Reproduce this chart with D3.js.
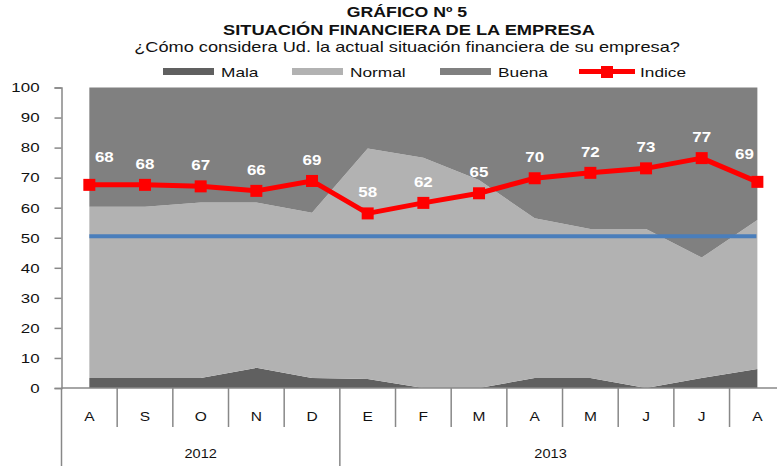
<!DOCTYPE html>
<html>
<head>
<meta charset="utf-8">
<script src="https://cdn.jsdelivr.net/npm/d3@7"></script>
<style>
  body { margin: 0; background: #fff; }
  svg text { font-family: Arial, "Liberation Sans", sans-serif; }
</style>
</head>
<body>
<div id="chart"></div>
<script>
// Chart data
const months = ["A", "S", "O", "N", "D", "E", "F", "M", "A", "M", "J", "J", "A"];
const years = [{ label: "2012", from: 0, to: 5 }, { label: "2013", from: 5, to: 13 }];
const mala = [3.3, 3.3, 3.3, 6.7, 3.3, 3.0, 0, 0, 3.3, 3.3, 0, 3.3, 6.3];
const normal = [57.0, 57.0, 58.4, 55.0, 55.0, 76.7, 76.6, 69.2, 53.2, 49.6, 52.9, 40.1, 49.6];
const buena = [39.7, 39.7, 38.3, 38.3, 41.7, 20.3, 23.4, 30.8, 43.5, 47.1, 47.1, 56.6, 44.1];
const indice = [67.6, 67.6, 67.1, 65.6, 68.9, 58.1, 61.6, 64.8, 69.8, 71.6, 73.1, 76.5, 68.6];
const reference = 50.5;
const yTicks = [0, 10, 20, 30, 40, 50, 60, 70, 80, 90, 100];

const width = 777, height = 466;
const colors = { mala: "#606060", normal: "#b2b2b2", buena: "#808080" };

const svg = d3.select("#chart").append("svg")
    .attr("width", width)
    .attr("height", height);

// text in the original is a bit wider than plain Arial, so stretch it horizontally
function addText(parent, x, y, str, size, sx, opts) {
    opts = opts || {};
    return parent.append("text")
        .attr("transform", `translate(${x},${y}) scale(${sx},1)`)
        .attr("text-anchor", opts.anchor || "middle")
        .attr("font-size", size)
        .attr("font-weight", opts.bold ? "bold" : "normal")
        .attr("fill", opts.fill || "#111")
        .text(str);
}

// Scales
const xBand = d3.scaleBand().domain(d3.range(months.length)).range([61.5, 61.5 + 13 * 55.67]);
const x = i => xBand(i) + xBand.bandwidth() / 2;
const y = d3.scaleLinear().domain([0, 100]).range([388, 87.5]);

// Titles
addText(svg, 407, 17, "GRÁFICO Nº 5", 14.5, 1.22, { bold: true });
addText(svg, 409, 34.5, "SITUACIÓN FINANCIERA DE LA EMPRESA", 14.5, 1.26, { bold: true });
addText(svg, 407, 52, "¿Cómo considera Ud. la actual situación financiera de su empresa?", 14, 1.3);

// Stacked areas
const rows = months.map((m, i) => ({ i: i, mala: mala[i], normal: normal[i], buena: buena[i] }));
const series = d3.stack().keys(["mala", "normal", "buena"])(rows);
const area = d3.area()
    .x(d => x(d.data.i))
    .y0(d => y(d[0]))
    .y1(d => y(d[1]));

svg.append("g").selectAll("path")
    .data(series)
    .enter().append("path")
    .attr("fill", d => colors[d.key])
    .attr("d", area);

// Reference line
svg.append("line")
    .attr("x1", x(0)).attr("x2", x(months.length - 1) - 1)
    .attr("y1", y(reference)).attr("y2", y(reference))
    .attr("stroke", "#4a7ebb").attr("stroke-width", 4);

// Y axis
const yAxis = svg.append("g")
    .attr("transform", "translate(61.5,0)")
    .call(d3.axisLeft(y).tickValues(yTicks).tickSize(7).tickPadding(14));
yAxis.selectAll("line, path").attr("stroke", "#888").attr("stroke-width", 1.5);
yAxis.selectAll("text")
    .attr("font-size", 13.5).attr("fill", "#111")
    .attr("x", -22 / 1.25)
    .attr("transform", "scale(1.25,1)")
    .style("font-family", "Arial, 'Liberation Sans', sans-serif");

// X axis: baseline, month separators and labels
svg.append("line")
    .attr("x1", 61.5).attr("x2", xBand.range()[1])
    .attr("y1", y(0)).attr("y2", y(0))
    .attr("stroke", "#888").attr("stroke-width", 1.5);

svg.append("g").selectAll("line")
    .data(d3.range(months.length + 1))
    .enter().append("line")
    .attr("x1", i => i < months.length ? xBand(i) : xBand.range()[1])
    .attr("x2", i => i < months.length ? xBand(i) : xBand.range()[1])
    .attr("y1", y(0))
    .attr("y2", i => years.some(yr => yr.from === i) ? 466 : 427)
    .attr("stroke", "#888").attr("stroke-width", 1.5);

const monthG = svg.append("g");
months.forEach((m, i) => addText(monthG, x(i), 421, m, 13.5, 1.15));

const yearG = svg.append("g");
years.forEach(yr => {
    const end = yr.to < months.length ? xBand(yr.to) : xBand.range()[1];
    const cx = (xBand(yr.from) + end) / 2 - (yr.to < months.length ? 0 : 12);
    addText(yearG, cx, 458, yr.label, 13, 1.12);
});

// Indice line and markers
const line = d3.line().x((d, i) => x(i)).y(d => y(d));
svg.append("path")
    .datum(indice)
    .attr("fill", "none")
    .attr("stroke", "#ff0000")
    .attr("stroke-width", 5)
    .attr("stroke-linejoin", "round")
    .attr("d", line);

svg.selectAll(".marker")
    .data(indice)
    .enter().append("rect")
    .attr("class", "marker")
    .attr("x", (d, i) => x(i) - 6)
    .attr("y", d => y(d) - 6)
    .attr("width", 12).attr("height", 12)
    .attr("fill", "#ff0000");

// Data labels
const last = indice.length - 1;
const labelG = svg.append("g");
indice.forEach((d, i) => {
    const lx = x(i) + (i === 0 ? 15 : i === last ? -13 : 0);
    const ly = y(d) - (i === 0 || i === last ? 23 : 16);
    addText(labelG, lx, ly, Math.round(d), 15, 1.13, { bold: true, fill: "#fff" });
});

// Legend
const legend = svg.append("g");
const legendItems = [
    { key: "mala", label: "Mala", x: 163 },
    { key: "normal", label: "Normal", x: 292 },
    { key: "buena", label: "Buena", x: 440 }
];
legend.selectAll("rect")
    .data(legendItems)
    .enter().append("rect")
    .attr("x", d => d.x).attr("y", 68)
    .attr("width", 51).attr("height", 7)
    .attr("fill", d => colors[d.key]);
legendItems.forEach(d => addText(legend, d.x + 58, 76.5, d.label, 13.5, 1.28, { anchor: "start" }));
legend.append("line")
    .attr("x1", 579).attr("x2", 635).attr("y1", 71.5).attr("y2", 71.5)
    .attr("stroke", "#ff0000").attr("stroke-width", 5);
legend.append("rect")
    .attr("x", 601).attr("y", 66).attr("width", 12).attr("height", 12)
    .attr("fill", "#ff0000");
addText(legend, 640, 76.5, "Indice", 13.5, 1.28, { anchor: "start" });
</script>
</body>
</html>
